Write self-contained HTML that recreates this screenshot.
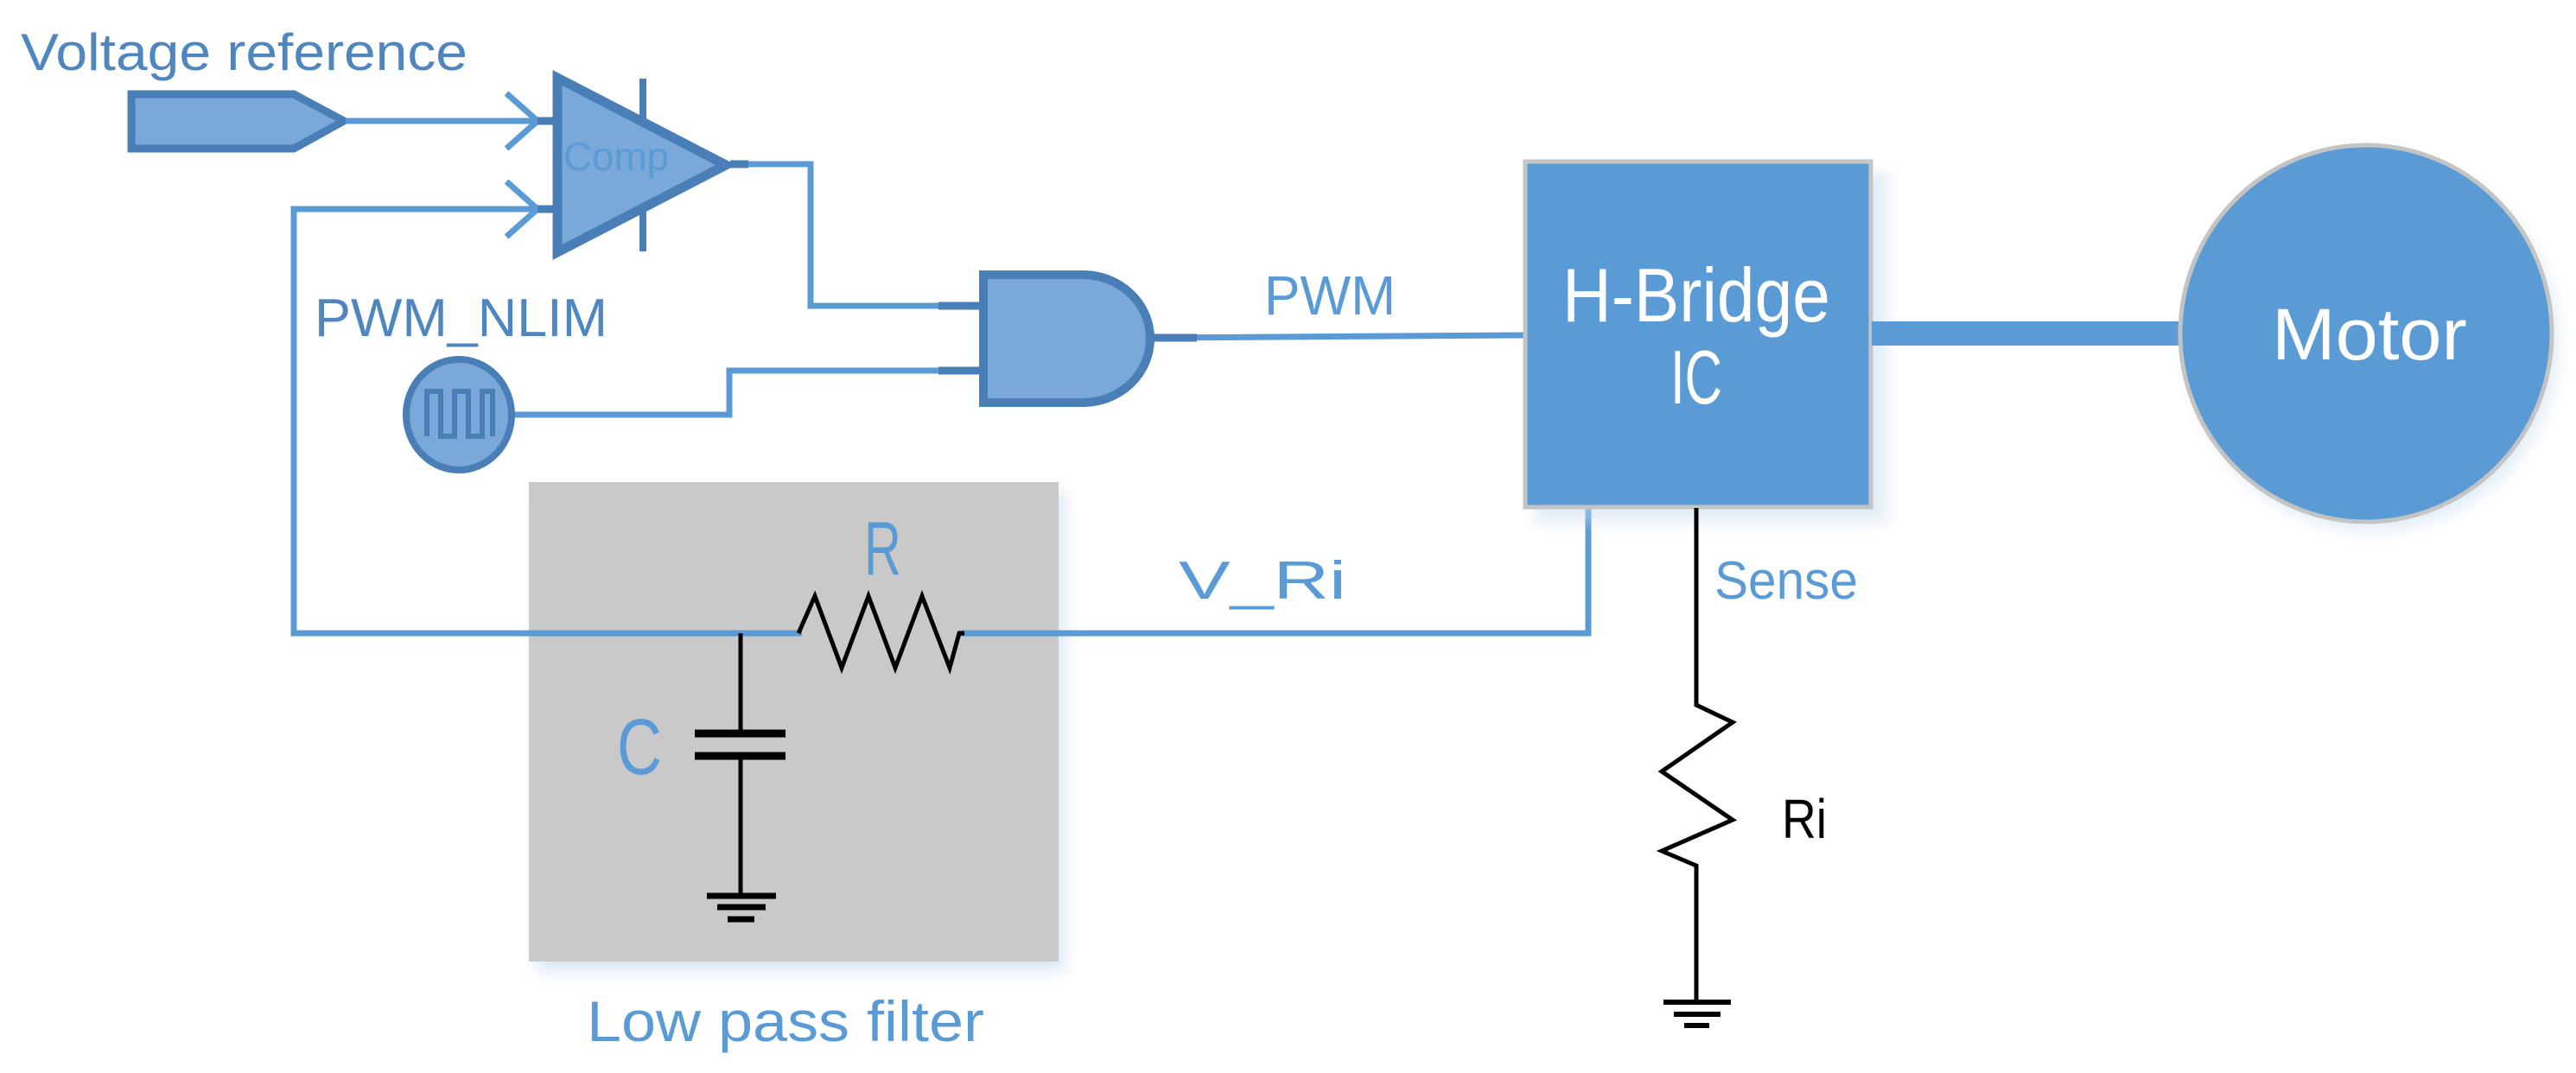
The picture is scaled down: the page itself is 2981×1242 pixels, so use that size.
<!DOCTYPE html>
<html><head><meta charset="utf-8"><style>
html,body{margin:0;padding:0;background:#fff;}
svg{display:block;}
text{font-family:"Liberation Sans",sans-serif;}
</style></head><body>
<svg width="2981" height="1242" viewBox="0 0 2981 1242" xmlns="http://www.w3.org/2000/svg">
<defs>
<filter id="sh" x="-10%" y="-10%" width="130%" height="130%"><feGaussianBlur stdDeviation="8"/></filter>
</defs>
<!-- Low pass filter box -->
<rect x="620" y="570" width="613" height="555" fill="#c7dcf0" opacity="0.6" filter="url(#sh)"/>
<rect x="612" y="558" width="613" height="555" fill="#c9c9c9"/>
<text x="679" y="1205" font-size="66" fill="#5b9bd5" textLength="460" lengthAdjust="spacingAndGlyphs">Low pass filter</text>

<!-- Voltage reference -->
<text x="24" y="81" font-size="60" fill="#4f86c0" textLength="517" lengthAdjust="spacingAndGlyphs">Voltage reference</text>
<polygon points="152,109 340,109 398,140 340,172 152,172" fill="#7aa8d8" stroke="#4a7eb7" stroke-width="9"/>
<g stroke="#5b9bd5" stroke-width="7" fill="none">
<line x1="400" y1="140" x2="622" y2="140"/>
<polyline points="586,108 622,140 586,172"/>
<polyline points="586,210 622,242 586,274"/>
<polyline points="928,733 340,733 340,242 622,242" stroke-linejoin="miter"/>
<polyline points="862,190 938,190 938,354 1086,354"/>
<polyline points="595,480 844,480 844,429 1086,429"/>
<polyline points="1335,391 1763,388"/>
<polyline points="1110,733 1838,733 1838,588"/>
</g>
<!-- stubs -->
<g stroke="#4a7eb7" stroke-width="9">
<line x1="622" y1="140" x2="642" y2="140"/>
<line x1="622" y1="242" x2="642" y2="242"/>
<line x1="845" y1="190" x2="866" y2="190"/>
<line x1="1086" y1="354" x2="1136" y2="354"/>
<line x1="1086" y1="429" x2="1136" y2="429"/>
<line x1="1335" y1="391" x2="1385" y2="391"/>
<line x1="744" y1="91" x2="744" y2="291" stroke-width="8"/>
</g>
<!-- Comparator -->
<polygon points="645,90 840,191 645,292" fill="#7aa8d8" stroke="#4a7eb7" stroke-width="11" stroke-linejoin="miter"/>
<text x="652" y="197" font-size="46" fill="#5b9bd5" textLength="122" lengthAdjust="spacingAndGlyphs">Comp</text>

<!-- AND gate -->
<path d="M1138,318 L1253,318 A78,74 0 0 1 1253,466 L1138,466 Z" fill="#7aa8d8" stroke="#4a7eb7" stroke-width="10"/>

<!-- PWM_NLIM -->
<text x="364" y="389" font-size="62" fill="#4f86c0" textLength="339" lengthAdjust="spacingAndGlyphs">PWM_NLIM</text>
<ellipse cx="531" cy="480" rx="61" ry="64" fill="#7aa8d8" stroke="#4a7eb7" stroke-width="8"/>
<polyline points="494,505 494,453 510,453 510,505 526,505 526,453 542,453 542,505 558,505 558,453 570,453 570,505" fill="none" stroke="#4a7eb7" stroke-width="6"/>

<!-- PWM label -->
<text x="1463" y="364" font-size="64" fill="#5b9bd5" textLength="152" lengthAdjust="spacingAndGlyphs">PWM</text>
<text x="1364" y="693" font-size="62" fill="#5b9bd5" textLength="194" lengthAdjust="spacingAndGlyphs">V_Ri</text>

<!-- H-Bridge -->
<rect x="1775" y="200" width="410" height="405" fill="#c7dcf0" opacity="0.5" filter="url(#sh)"/>
<rect x="1765" y="187" width="400" height="400" fill="#5b9bd5" stroke="#c4c4c4" stroke-width="5"/>
<text x="1963" y="372" font-size="88" fill="#fff" text-anchor="middle" textLength="310" lengthAdjust="spacingAndGlyphs">H-Bridge</text>
<text x="1963" y="467" font-size="88" fill="#fff" text-anchor="middle" textLength="60" lengthAdjust="spacingAndGlyphs">IC</text>

<!-- Motor -->
<rect x="2166" y="372" width="360" height="28" fill="#5b9bd5"/>
<ellipse cx="2745" cy="396" rx="216" ry="219" fill="#c7dcf0" opacity="0.5" filter="url(#sh)"/>
<ellipse cx="2738" cy="386" rx="215" ry="218" fill="#5b9bd5" stroke="#c4c4c4" stroke-width="5"/>
<text x="2742" y="416" font-size="84" fill="#fff" text-anchor="middle" textLength="226" lengthAdjust="spacingAndGlyphs">Motor</text>

<!-- R resistor -->
<text x="1000" y="665" font-size="88" fill="#5b9bd5" textLength="43" lengthAdjust="spacingAndGlyphs">R</text>
<polyline points="924,733 943,690 974,773 1005,690 1036,773 1067,690 1099,773 1110,733 1116,733" fill="none" stroke="#000" stroke-width="5"/>
<!-- Capacitor -->
<g stroke="#000">
<line x1="857" y1="733" x2="857" y2="849" stroke-width="5"/>
<line x1="804" y1="849" x2="909" y2="849" stroke-width="9"/>
<line x1="804" y1="875" x2="909" y2="875" stroke-width="9"/>
<line x1="857" y1="875" x2="857" y2="1037" stroke-width="5"/>
<line x1="818" y1="1037" x2="898" y2="1037" stroke-width="7"/>
<line x1="830" y1="1050" x2="886" y2="1050" stroke-width="7"/>
<line x1="842" y1="1064" x2="873" y2="1064" stroke-width="7"/>
</g>
<text x="714" y="896" font-size="92" fill="#5b9bd5" textLength="52" lengthAdjust="spacingAndGlyphs">C</text>

<!-- Sense -->
<text x="1984" y="693" font-size="62" fill="#5b9bd5" textLength="166" lengthAdjust="spacingAndGlyphs">Sense</text>
<polyline points="1963,588 1963,816 2005,836 1923,893 2005,949 1923,985 1963,1002 1963,1160" fill="none" stroke="#000" stroke-width="5"/>
<g stroke="#000" stroke-width="6">
<line x1="1925" y1="1160" x2="2003" y2="1160"/>
<line x1="1937" y1="1174" x2="1991" y2="1174"/>
<line x1="1949" y1="1187" x2="1978" y2="1187"/>
</g>
<text x="2062" y="970" font-size="64" fill="#000" textLength="52" lengthAdjust="spacingAndGlyphs">Ri</text>
</svg>
</body></html>
